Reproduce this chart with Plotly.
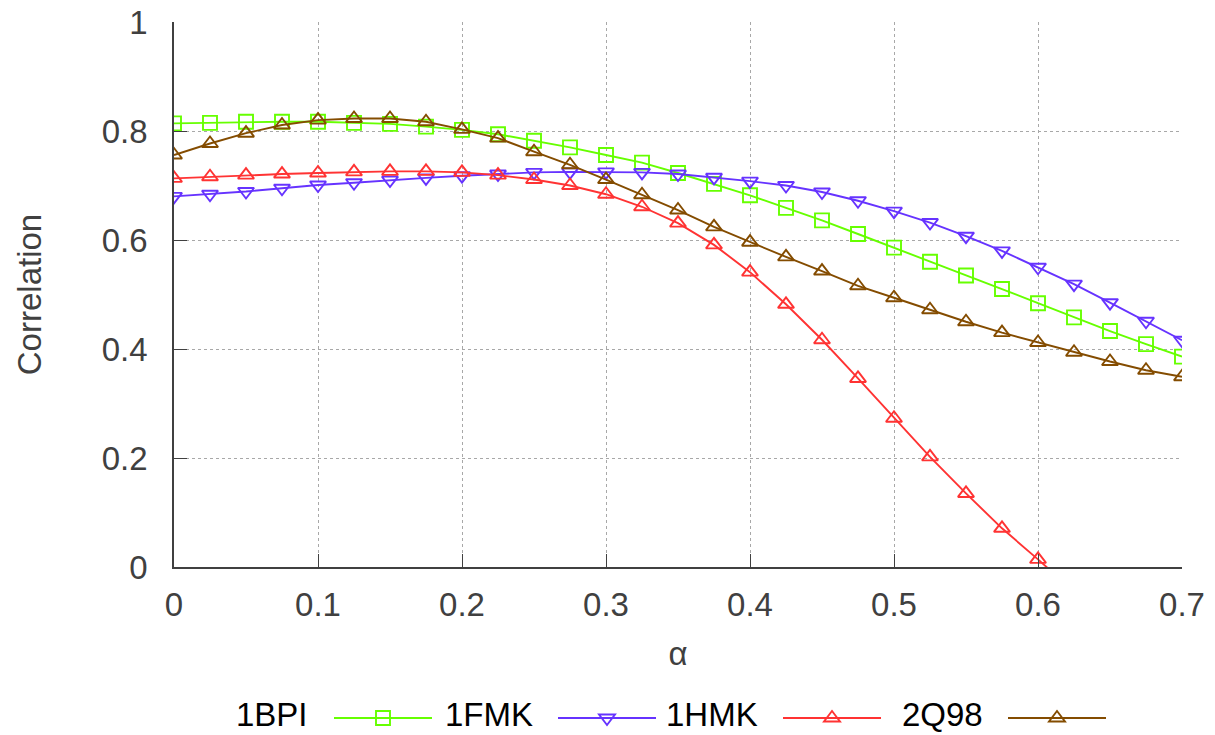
import plotly.graph_objects as go

alpha = [0, 0.025, 0.05, 0.075, 0.1, 0.125, 0.15, 0.175, 0.2, 0.225, 0.25, 0.275,
         0.3, 0.325, 0.35, 0.375, 0.4, 0.425, 0.45, 0.475, 0.5, 0.525, 0.55, 0.575,
         0.6, 0.625, 0.65, 0.675, 0.7]

bpi_1 = [0.814, 0.815, 0.817, 0.817, 0.817, 0.815, 0.813, 0.808, 0.802, 0.794, 0.782, 0.770,
         0.756, 0.742, 0.723, 0.703, 0.682, 0.659, 0.636, 0.611, 0.586, 0.560, 0.535, 0.510,
         0.484, 0.458, 0.433, 0.409, 0.386]
fmk_1 = [0.680, 0.684, 0.689, 0.695, 0.701, 0.705, 0.710, 0.714, 0.718, 0.721, 0.724, 0.725,
         0.725, 0.724, 0.721, 0.715, 0.708, 0.700, 0.688, 0.672, 0.653, 0.632, 0.607, 0.580,
         0.550, 0.519, 0.485, 0.451, 0.416]
hmk_1 = [0.713, 0.716, 0.719, 0.721, 0.723, 0.725, 0.726, 0.726, 0.724, 0.719, 0.711, 0.700,
         0.684, 0.661, 0.631, 0.591, 0.541, 0.482, 0.417, 0.346, 0.273, 0.202, 0.135, 0.071,
         0.014, -0.045]
q98_2 = [0.756, 0.777, 0.796, 0.811, 0.820, 0.823, 0.823, 0.817, 0.803, 0.787, 0.762, 0.738,
         0.711, 0.683, 0.655, 0.624, 0.596, 0.569, 0.543, 0.516, 0.494, 0.472, 0.450, 0.430,
         0.412, 0.394, 0.377, 0.361, 0.349]

names = ["1BPI", "1FMK", "1HMK", "2Q98"]
colors = ["#66ff00", "#6633ff", "#ff3333", "#844c00"]
symbols = ["square-open", "triangle-down-open", "triangle-up-open", "triangle-up-open"]
series = [bpi_1, fmk_1, hmk_1, q98_2]

x_ticks = [0, 0.1, 0.2, 0.3, 0.4, 0.5, 0.6, 0.7]
x_ticktext = ["0", "0.1", "0.2", "0.3", "0.4", "0.5", "0.6", "0.7"]
y_ticks = [0, 0.2, 0.4, 0.6, 0.8, 1.0]
y_ticktext = ["0", "0.2", "0.4", "0.6", "0.8", "1"]

FONT = "Liberation Sans, Arial, Helvetica, sans-serif"
GRAY = "#404040"
LW = 1.9

W, H = 1215, 735
ML, MR, MT, MB = 174, 33, 22, 168
PW, PH = W - ML - MR, H - MT - MB

fig = go.Figure()
for name, ys, col, sym in zip(names, series, colors, symbols):
    fig.add_trace(go.Scatter(
        x=alpha[:len(ys)], y=ys, name=name, mode="lines+markers",
        line=dict(color=col, width=LW),
        marker=dict(symbol=sym, size=14 if sym == "square-open" else 14,
                    color=col, line=dict(color=col, width=LW)),
        showlegend=False,
    ))

# custom gnuplot-style key: title, then sample line with marker
def px2paper_x(px):
    return (px - ML) / PW

def px2paper_y(py):
    return (H - MB - py) / PH

shapes = []
annotations = []
key_y = 718
key_text_y = 714
text_right = [310, 535, 760, 985]
line_start = [334, 558, 783, 1008]
line_len = 98
for i, (name, col, sym) in enumerate(zip(names, colors, symbols)):
    annotations.append(dict(
        x=px2paper_x(text_right[i]), y=px2paper_y(key_text_y), xref="paper", yref="paper",
        text=name, showarrow=False, xanchor="right", yanchor="middle",
        font=dict(family=FONT, size=33, color="black"),
    ))
    x0 = line_start[i]
    x1 = x0 + line_len
    shapes.append(dict(type="line", xref="paper", yref="paper",
                       x0=px2paper_x(x0), x1=px2paper_x(x1),
                       y0=px2paper_y(key_y), y1=px2paper_y(key_y),
                       line=dict(color=col, width=LW)))
    xm = px2paper_x((x0 + x1) / 2)
    ym = px2paper_y(key_y)
    if sym == "square-open":
        shapes.append(dict(type="rect", xref="paper", yref="paper",
                           xsizemode="pixel", ysizemode="pixel",
                           xanchor=xm, yanchor=ym, x0=-7, x1=7, y0=-7, y1=7,
                           line=dict(color=col, width=LW), fillcolor="rgba(0,0,0,0)"))
    elif sym == "triangle-down-open":
        shapes.append(dict(type="path", xref="paper", yref="paper",
                           xsizemode="pixel", ysizemode="pixel",
                           xanchor=xm, yanchor=ym,
                           path="M-8,3.5 L8,3.5 L0,-7 Z",
                           line=dict(color=col, width=LW), fillcolor="rgba(0,0,0,0)"))
    else:
        shapes.append(dict(type="path", xref="paper", yref="paper",
                           xsizemode="pixel", ysizemode="pixel",
                           xanchor=xm, yanchor=ym,
                           path="M-8,-3.5 L8,-3.5 L0,7 Z",
                           line=dict(color=col, width=LW), fillcolor="rgba(0,0,0,0)"))

axis_common = dict(
    showline=True, linecolor=GRAY, linewidth=1.5, mirror=False,
    ticks="inside", ticklen=13, tickwidth=1.2, tickcolor=GRAY,
    showgrid=True, gridcolor="#a8a8a8", gridwidth=1, griddash="dot",
    zeroline=False, automargin=False,
    tickfont=dict(family=FONT, size=33, color=GRAY),
)

fig.update_layout(
    width=W, height=H,
    margin=dict(l=ML, r=MR, t=MT, b=MB),
    paper_bgcolor="white", plot_bgcolor="white",
    font=dict(family=FONT, color=GRAY),
    xaxis=dict(range=[0, 0.7], tickvals=x_ticks, ticktext=x_ticktext,
               ticklabelstandoff=8,
               title=dict(text="α", font=dict(family=FONT, size=33, color=GRAY), standoff=20),
               **axis_common),
    yaxis=dict(range=[0, 1], tickvals=y_ticks, ticktext=y_ticktext,
               ticklabelstandoff=18,
               title=dict(text="Correlation", font=dict(family=FONT, size=33, color=GRAY), standoff=50),
               **axis_common),
    shapes=shapes,
    annotations=annotations,
    showlegend=False,
)

fig.write_html(
    "out.html",
    config={"displayModeBar": False},
    post_script="document.body.style.margin='0';document.body.style.overflow='hidden';",
)
